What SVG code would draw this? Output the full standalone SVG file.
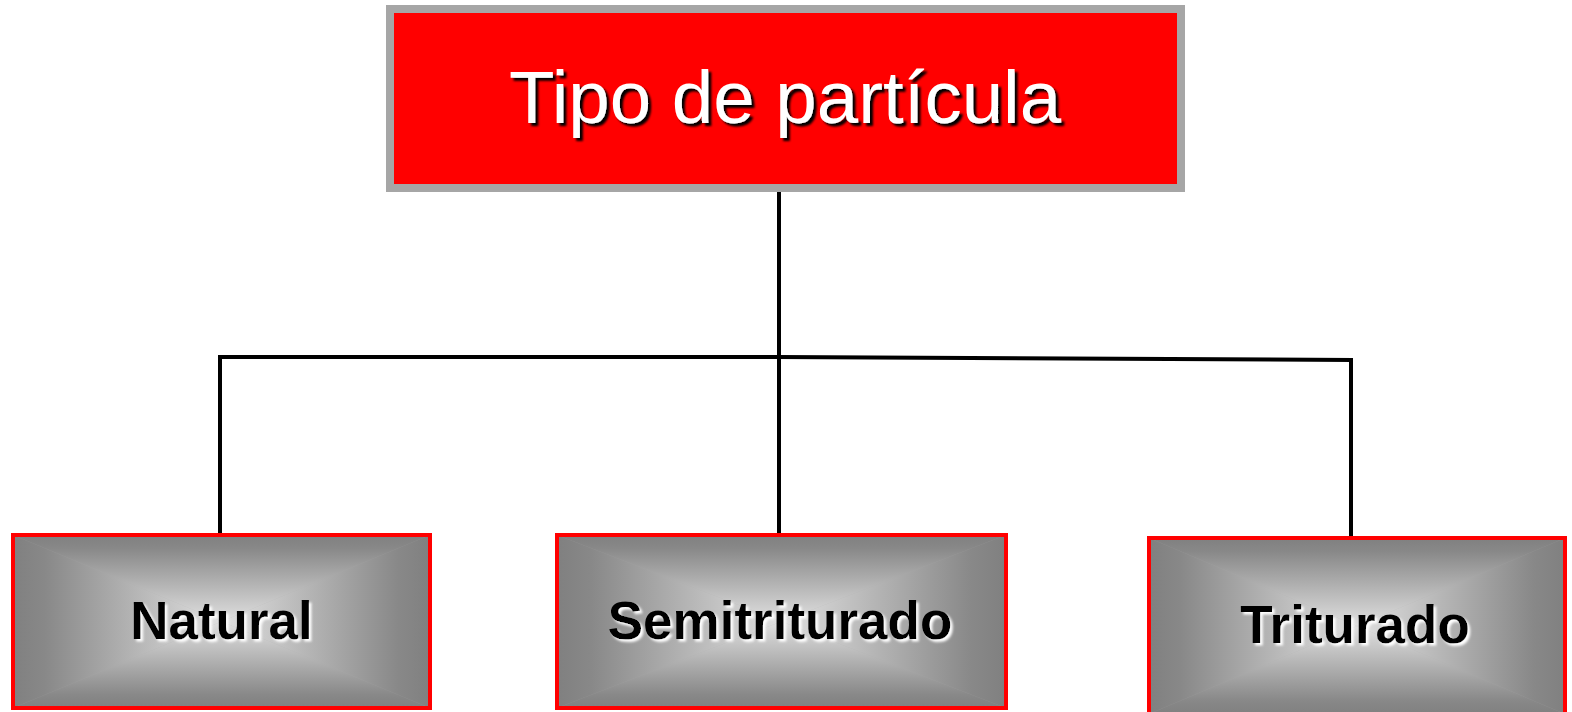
<svg xmlns="http://www.w3.org/2000/svg" width="1572" height="712" viewBox="0 0 1572 712">
<style>
.conn{stroke:#000;stroke-width:4;fill:none;stroke-linecap:square}
.sub{fill:none;stroke:#FF0000;stroke-width:4}
.base{fill:#A8A8A8}
.title{font-family:"Liberation Sans",Arial,sans-serif;font-size:74.5px;fill:#fff;text-anchor:middle;filter:url(#shBlack)}
.lbl{font-family:"Liberation Sans",Arial,sans-serif;font-size:53px;font-weight:bold;fill:#000;text-anchor:middle;filter:url(#shWhite)}
</style>
<defs>
<filter id="shBlack" x="-5%" y="-20%" width="110%" height="140%">
<feDropShadow dx="3" dy="3" stdDeviation="1" flood-color="#000" flood-opacity="1"/>
</filter>
<filter id="shWhite" x="-5%" y="-20%" width="110%" height="140%">
<feDropShadow dx="2.5" dy="2.5" stdDeviation="1.2" flood-color="#fff" flood-opacity="1"/>
</filter>
<linearGradient id="gT" x1="0" y1="0" x2="0" y2="1"><stop offset="0" stop-color="#808080"/><stop offset="0.15" stop-color="#888"/><stop offset="1" stop-color="#E0E0E0"/></linearGradient>
<linearGradient id="gB" x1="0" y1="1" x2="0" y2="0"><stop offset="0" stop-color="#808080"/><stop offset="0.15" stop-color="#888"/><stop offset="1" stop-color="#E0E0E0"/></linearGradient>
<linearGradient id="gL" x1="0" y1="0" x2="1" y2="0"><stop offset="0" stop-color="#808080"/><stop offset="0.15" stop-color="#888"/><stop offset="1" stop-color="#E0E0E0"/></linearGradient>
<linearGradient id="gR" x1="1" y1="0" x2="0" y2="0"><stop offset="0" stop-color="#808080"/><stop offset="0.15" stop-color="#888"/><stop offset="1" stop-color="#E0E0E0"/></linearGradient>
</defs>

<g id="connectors">
<line class="conn" x1="779" y1="192" x2="779" y2="357"/>
<line class="conn" x1="220" y1="357" x2="779" y2="357"/>
<line class="conn" x1="779" y1="357" x2="1351" y2="360"/>
<line class="conn" x1="220" y1="357" x2="220" y2="531"/>
<line class="conn" x1="779" y1="357" x2="779" y2="531"/>
<line class="conn" x1="1351" y1="360" x2="1351" y2="534"/>
</g>

<g id="node-tipo">
<rect x="390" y="9" width="791" height="179" fill="#FF0000" stroke="#A6A6A6" stroke-width="8"/>
<text class="title" x="785" y="123">Tipo de partícula</text>
</g>

<g id="node-natural">
<rect class="base" x="13" y="535" width="417" height="173"/>
<polygon points="13,535 430,535 221.5,621.5" fill="url(#gT)" stroke="url(#gT)" stroke-width="0.6"/>
<polygon points="13,708 430,708 221.5,621.5" fill="url(#gB)" stroke="url(#gB)" stroke-width="0.6"/>
<polygon points="13,535 13,708 221.5,621.5" fill="url(#gL)"/>
<polygon points="430,535 430,708 221.5,621.5" fill="url(#gR)"/>
<rect class="sub" x="13" y="535" width="417" height="173"/>
<text class="lbl" x="221.5" y="639">Natural</text>
</g>

<g id="node-semitriturado">
<rect class="base" x="557" y="535" width="449" height="173"/>
<polygon points="557,535 1006,535 781.5,621.5" fill="url(#gT)" stroke="url(#gT)" stroke-width="0.6"/>
<polygon points="557,708 1006,708 781.5,621.5" fill="url(#gB)" stroke="url(#gB)" stroke-width="0.6"/>
<polygon points="557,535 557,708 781.5,621.5" fill="url(#gL)"/>
<polygon points="1006,535 1006,708 781.5,621.5" fill="url(#gR)"/>
<rect class="sub" x="557" y="535" width="449" height="173"/>
<text class="lbl" x="780" y="639">Semitriturado</text>
</g>

<g id="node-triturado">
<rect class="base" x="1149" y="538" width="416" height="176"/>
<polygon points="1149,538 1565,538 1357,626" fill="url(#gT)" stroke="url(#gT)" stroke-width="0.6"/>
<polygon points="1149,714 1565,714 1357,626" fill="url(#gB)" stroke="url(#gB)" stroke-width="0.6"/>
<polygon points="1149,538 1149,714 1357,626" fill="url(#gL)"/>
<polygon points="1565,538 1565,714 1357,626" fill="url(#gR)"/>
<rect class="sub" x="1149" y="538" width="416" height="176"/>
<text class="lbl" x="1355" y="643">Triturado</text>
</g>
</svg>
